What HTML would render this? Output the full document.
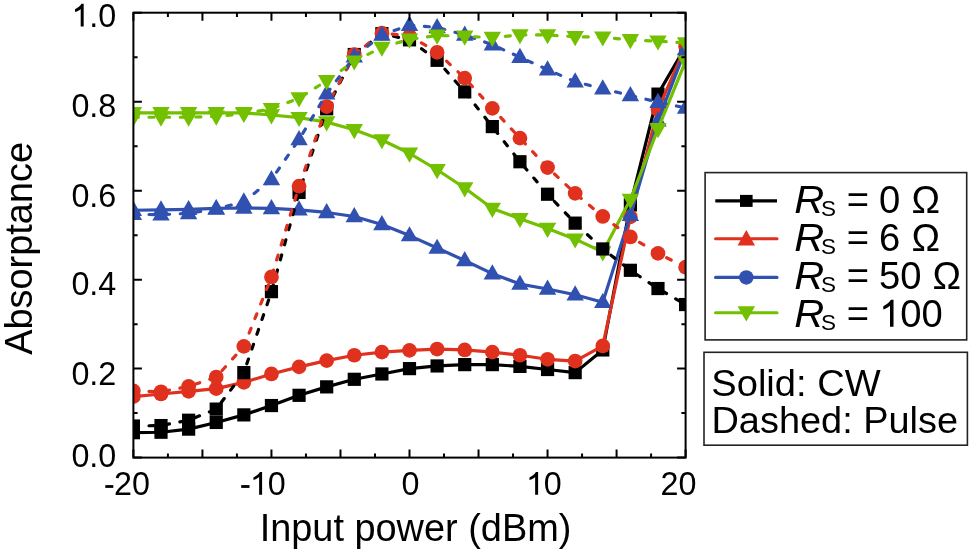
<!DOCTYPE html>
<html><head><meta charset="utf-8"><style>
html,body{margin:0;padding:0;background:#fff;width:969px;height:553px;overflow:hidden;font-family:"Liberation Sans",sans-serif}
</style></head><body>
<div style="position:relative;width:969px;height:553px">
<svg width="969" height="553" viewBox="0 0 969 553" style="position:absolute;left:0;top:0">
<defs><clipPath id="pc"><rect x="133.4" y="12.7" width="552.2" height="444.90000000000003"/></clipPath></defs>
<g clip-path="url(#pc)">
<polyline points="133.40,432.69 161.01,432.24 188.62,429.13 216.23,422.45 243.84,414.89 271.45,405.55 299.06,395.31 326.67,386.86 354.28,379.30 381.89,373.96 409.50,368.62 437.11,365.95 464.72,364.62 492.33,364.62 519.94,366.40 547.55,369.51 575.16,372.62 602.77,349.93 630.38,204.90 657.99,94.12 685.60,46.51" fill="none" stroke="#000000" stroke-width="3.2" stroke-linejoin="round"/><rect x="126.80" y="426.09" width="13.2" height="13.2" fill="#000000"/><rect x="154.41" y="425.64" width="13.2" height="13.2" fill="#000000"/><rect x="182.02" y="422.53" width="13.2" height="13.2" fill="#000000"/><rect x="209.63" y="415.85" width="13.2" height="13.2" fill="#000000"/><rect x="237.24" y="408.29" width="13.2" height="13.2" fill="#000000"/><rect x="264.85" y="398.95" width="13.2" height="13.2" fill="#000000"/><rect x="292.46" y="388.71" width="13.2" height="13.2" fill="#000000"/><rect x="320.07" y="380.26" width="13.2" height="13.2" fill="#000000"/><rect x="347.68" y="372.70" width="13.2" height="13.2" fill="#000000"/><rect x="375.29" y="367.36" width="13.2" height="13.2" fill="#000000"/><rect x="402.90" y="362.02" width="13.2" height="13.2" fill="#000000"/><rect x="430.51" y="359.35" width="13.2" height="13.2" fill="#000000"/><rect x="458.12" y="358.02" width="13.2" height="13.2" fill="#000000"/><rect x="485.73" y="358.02" width="13.2" height="13.2" fill="#000000"/><rect x="513.34" y="359.80" width="13.2" height="13.2" fill="#000000"/><rect x="540.95" y="362.91" width="13.2" height="13.2" fill="#000000"/><rect x="568.56" y="366.02" width="13.2" height="13.2" fill="#000000"/><rect x="596.17" y="343.33" width="13.2" height="13.2" fill="#000000"/><rect x="623.78" y="198.30" width="13.2" height="13.2" fill="#000000"/><rect x="651.39" y="87.52" width="13.2" height="13.2" fill="#000000"/><rect x="679.00" y="39.91" width="13.2" height="13.2" fill="#000000"/>
<polyline points="133.40,396.65 161.01,393.98 188.62,391.31 216.23,388.64 243.84,382.41 271.45,373.96 299.06,366.84 326.67,360.61 354.28,355.27 381.89,352.16 409.50,350.38 437.11,349.04 464.72,349.93 492.33,352.16 519.94,355.27 547.55,359.28 575.16,361.06 602.77,345.93 630.38,216.91 657.99,109.69 685.60,46.51" fill="none" stroke="#E0301E" stroke-width="3.2" stroke-linejoin="round"/><circle cx="133.40" cy="396.65" r="7.35" fill="#E0301E"/><circle cx="161.01" cy="393.98" r="7.35" fill="#E0301E"/><circle cx="188.62" cy="391.31" r="7.35" fill="#E0301E"/><circle cx="216.23" cy="388.64" r="7.35" fill="#E0301E"/><circle cx="243.84" cy="382.41" r="7.35" fill="#E0301E"/><circle cx="271.45" cy="373.96" r="7.35" fill="#E0301E"/><circle cx="299.06" cy="366.84" r="7.35" fill="#E0301E"/><circle cx="326.67" cy="360.61" r="7.35" fill="#E0301E"/><circle cx="354.28" cy="355.27" r="7.35" fill="#E0301E"/><circle cx="381.89" cy="352.16" r="7.35" fill="#E0301E"/><circle cx="409.50" cy="350.38" r="7.35" fill="#E0301E"/><circle cx="437.11" cy="349.04" r="7.35" fill="#E0301E"/><circle cx="464.72" cy="349.93" r="7.35" fill="#E0301E"/><circle cx="492.33" cy="352.16" r="7.35" fill="#E0301E"/><circle cx="519.94" cy="355.27" r="7.35" fill="#E0301E"/><circle cx="547.55" cy="359.28" r="7.35" fill="#E0301E"/><circle cx="575.16" cy="361.06" r="7.35" fill="#E0301E"/><circle cx="602.77" cy="345.93" r="7.35" fill="#E0301E"/><circle cx="630.38" cy="216.91" r="7.35" fill="#E0301E"/><circle cx="657.99" cy="109.69" r="7.35" fill="#E0301E"/><circle cx="685.60" cy="46.51" r="7.35" fill="#E0301E"/>
<polyline points="133.40,210.24 161.01,209.79 188.62,209.35 216.23,208.46 243.84,208.01 271.45,208.46 299.06,209.79 326.67,212.46 354.28,216.46 381.89,224.47 409.50,235.59 437.11,248.05 464.72,260.51 492.33,273.63 519.94,284.09 547.55,288.98 575.16,294.77 602.77,302.33 630.38,215.13 657.99,120.81 685.60,49.18" fill="none" stroke="#3151B0" stroke-width="3.2" stroke-linejoin="round"/><path d="M133.40 200.81L142.10 216.01L124.70 216.01Z" fill="#3151B0"/><path d="M161.01 200.37L169.71 215.57L152.31 215.57Z" fill="#3151B0"/><path d="M188.62 199.92L197.32 215.12L179.92 215.12Z" fill="#3151B0"/><path d="M216.23 199.03L224.93 214.23L207.53 214.23Z" fill="#3151B0"/><path d="M243.84 198.59L252.54 213.79L235.14 213.79Z" fill="#3151B0"/><path d="M271.45 199.03L280.15 214.23L262.75 214.23Z" fill="#3151B0"/><path d="M299.06 200.37L307.76 215.57L290.36 215.57Z" fill="#3151B0"/><path d="M326.67 203.04L335.37 218.24L317.97 218.24Z" fill="#3151B0"/><path d="M354.28 207.04L362.98 222.24L345.58 222.24Z" fill="#3151B0"/><path d="M381.89 215.05L390.59 230.25L373.19 230.25Z" fill="#3151B0"/><path d="M409.50 226.17L418.20 241.37L400.80 241.37Z" fill="#3151B0"/><path d="M437.11 238.63L445.81 253.83L428.41 253.83Z" fill="#3151B0"/><path d="M464.72 251.09L473.42 266.29L456.02 266.29Z" fill="#3151B0"/><path d="M492.33 264.21L501.03 279.41L483.63 279.41Z" fill="#3151B0"/><path d="M519.94 274.67L528.64 289.87L511.24 289.87Z" fill="#3151B0"/><path d="M547.55 279.56L556.25 294.76L538.85 294.76Z" fill="#3151B0"/><path d="M575.16 285.34L583.86 300.54L566.46 300.54Z" fill="#3151B0"/><path d="M602.77 292.91L611.47 308.11L594.07 308.11Z" fill="#3151B0"/><path d="M630.38 205.71L639.08 220.91L621.68 220.91Z" fill="#3151B0"/><path d="M657.99 111.39L666.69 126.59L649.29 126.59Z" fill="#3151B0"/><path d="M685.60 39.76L694.30 54.96L676.90 54.96Z" fill="#3151B0"/>
<polyline points="133.40,112.80 161.01,112.80 188.62,112.80 216.23,112.80 243.84,112.80 271.45,115.03 299.06,117.70 326.67,122.15 354.28,129.71 381.89,139.94 409.50,153.29 437.11,169.75 464.72,187.99 492.33,208.46 519.94,218.69 547.55,228.48 575.16,239.15 602.77,252.06 630.38,199.56 657.99,128.82 685.60,61.19" fill="none" stroke="#72C000" stroke-width="3.2" stroke-linejoin="round"/><path d="M133.40 122.23L142.10 107.03L124.70 107.03Z" fill="#72C000"/><path d="M161.01 122.23L169.71 107.03L152.31 107.03Z" fill="#72C000"/><path d="M188.62 122.23L197.32 107.03L179.92 107.03Z" fill="#72C000"/><path d="M216.23 122.23L224.93 107.03L207.53 107.03Z" fill="#72C000"/><path d="M243.84 122.23L252.54 107.03L235.14 107.03Z" fill="#72C000"/><path d="M271.45 124.45L280.15 109.25L262.75 109.25Z" fill="#72C000"/><path d="M299.06 127.12L307.76 111.92L290.36 111.92Z" fill="#72C000"/><path d="M326.67 131.57L335.37 116.37L317.97 116.37Z" fill="#72C000"/><path d="M354.28 139.13L362.98 123.93L345.58 123.93Z" fill="#72C000"/><path d="M381.89 149.37L390.59 134.17L373.19 134.17Z" fill="#72C000"/><path d="M409.50 162.71L418.20 147.51L400.80 147.51Z" fill="#72C000"/><path d="M437.11 179.17L445.81 163.97L428.41 163.97Z" fill="#72C000"/><path d="M464.72 197.41L473.42 182.21L456.02 182.21Z" fill="#72C000"/><path d="M492.33 217.88L501.03 202.68L483.63 202.68Z" fill="#72C000"/><path d="M519.94 228.11L528.64 212.91L511.24 212.91Z" fill="#72C000"/><path d="M547.55 237.90L556.25 222.70L538.85 222.70Z" fill="#72C000"/><path d="M575.16 248.58L583.86 233.38L566.46 233.38Z" fill="#72C000"/><path d="M602.77 261.48L611.47 246.28L594.07 246.28Z" fill="#72C000"/><path d="M630.38 208.98L639.08 193.78L621.68 193.78Z" fill="#72C000"/><path d="M657.99 138.24L666.69 123.04L649.29 123.04Z" fill="#72C000"/><path d="M685.60 70.62L694.30 55.42L676.90 55.42Z" fill="#72C000"/>
<polyline points="133.40,426.01 161.01,425.57 188.62,420.23 216.23,409.11 243.84,372.62 271.45,291.65 299.06,192.44 326.67,108.80 354.28,54.52 381.89,33.61 409.50,39.84 437.11,60.30 464.72,91.89 492.33,126.59 519.94,161.74 547.55,194.22 575.16,223.14 602.77,248.94 630.38,270.30 657.99,288.54 685.60,304.55" fill="none" stroke="#000000" stroke-width="3.2" stroke-dasharray="5.0 10.62" stroke-linecap="round"/><rect x="126.80" y="419.41" width="13.2" height="13.2" fill="#000000"/><rect x="154.41" y="418.97" width="13.2" height="13.2" fill="#000000"/><rect x="182.02" y="413.63" width="13.2" height="13.2" fill="#000000"/><rect x="209.63" y="402.51" width="13.2" height="13.2" fill="#000000"/><rect x="237.24" y="366.02" width="13.2" height="13.2" fill="#000000"/><rect x="264.85" y="285.05" width="13.2" height="13.2" fill="#000000"/><rect x="292.46" y="185.84" width="13.2" height="13.2" fill="#000000"/><rect x="320.07" y="102.20" width="13.2" height="13.2" fill="#000000"/><rect x="347.68" y="47.92" width="13.2" height="13.2" fill="#000000"/><rect x="375.29" y="27.01" width="13.2" height="13.2" fill="#000000"/><rect x="402.90" y="33.24" width="13.2" height="13.2" fill="#000000"/><rect x="430.51" y="53.70" width="13.2" height="13.2" fill="#000000"/><rect x="458.12" y="85.29" width="13.2" height="13.2" fill="#000000"/><rect x="485.73" y="119.99" width="13.2" height="13.2" fill="#000000"/><rect x="513.34" y="155.14" width="13.2" height="13.2" fill="#000000"/><rect x="540.95" y="187.62" width="13.2" height="13.2" fill="#000000"/><rect x="568.56" y="216.54" width="13.2" height="13.2" fill="#000000"/><rect x="596.17" y="242.34" width="13.2" height="13.2" fill="#000000"/><rect x="623.78" y="263.70" width="13.2" height="13.2" fill="#000000"/><rect x="651.39" y="281.94" width="13.2" height="13.2" fill="#000000"/><rect x="679.00" y="297.95" width="13.2" height="13.2" fill="#000000"/>
<polyline points="133.40,390.87 161.01,391.75 188.62,386.42 216.23,377.07 243.84,346.38 271.45,276.97 299.06,186.21 326.67,106.57 354.28,54.52 381.89,33.17 409.50,35.83 437.11,52.30 464.72,78.10 492.33,108.35 519.94,138.16 547.55,167.53 575.16,193.33 602.77,216.46 630.38,236.93 657.99,253.39 685.60,267.18" fill="none" stroke="#E0301E" stroke-width="3.2" stroke-dasharray="5.0 10.62" stroke-linecap="round"/><circle cx="133.40" cy="390.87" r="7.35" fill="#E0301E"/><circle cx="161.01" cy="391.75" r="7.35" fill="#E0301E"/><circle cx="188.62" cy="386.42" r="7.35" fill="#E0301E"/><circle cx="216.23" cy="377.07" r="7.35" fill="#E0301E"/><circle cx="243.84" cy="346.38" r="7.35" fill="#E0301E"/><circle cx="271.45" cy="276.97" r="7.35" fill="#E0301E"/><circle cx="299.06" cy="186.21" r="7.35" fill="#E0301E"/><circle cx="326.67" cy="106.57" r="7.35" fill="#E0301E"/><circle cx="354.28" cy="54.52" r="7.35" fill="#E0301E"/><circle cx="381.89" cy="33.17" r="7.35" fill="#E0301E"/><circle cx="409.50" cy="35.83" r="7.35" fill="#E0301E"/><circle cx="437.11" cy="52.30" r="7.35" fill="#E0301E"/><circle cx="464.72" cy="78.10" r="7.35" fill="#E0301E"/><circle cx="492.33" cy="108.35" r="7.35" fill="#E0301E"/><circle cx="519.94" cy="138.16" r="7.35" fill="#E0301E"/><circle cx="547.55" cy="167.53" r="7.35" fill="#E0301E"/><circle cx="575.16" cy="193.33" r="7.35" fill="#E0301E"/><circle cx="602.77" cy="216.46" r="7.35" fill="#E0301E"/><circle cx="630.38" cy="236.93" r="7.35" fill="#E0301E"/><circle cx="657.99" cy="253.39" r="7.35" fill="#E0301E"/><circle cx="685.60" cy="267.18" r="7.35" fill="#E0301E"/>
<polyline points="133.40,214.24 161.01,214.68 188.62,213.35 216.23,208.90 243.84,201.78 271.45,179.54 299.06,139.50 326.67,93.67 354.28,56.75 381.89,34.94 409.50,25.16 437.11,27.38 464.72,34.94 492.33,44.73 519.94,57.19 547.55,69.65 575.16,81.66 602.77,88.78 630.38,95.45 657.99,102.12 685.60,107.91" fill="none" stroke="#3151B0" stroke-width="3.2" stroke-dasharray="5.0 10.62" stroke-linecap="round"/><path d="M133.40 204.82L142.10 220.02L124.70 220.02Z" fill="#3151B0"/><path d="M161.01 205.26L169.71 220.46L152.31 220.46Z" fill="#3151B0"/><path d="M188.62 203.93L197.32 219.13L179.92 219.13Z" fill="#3151B0"/><path d="M216.23 199.48L224.93 214.68L207.53 214.68Z" fill="#3151B0"/><path d="M243.84 192.36L252.54 207.56L235.14 207.56Z" fill="#3151B0"/><path d="M271.45 170.11L280.15 185.31L262.75 185.31Z" fill="#3151B0"/><path d="M299.06 130.07L307.76 145.27L290.36 145.27Z" fill="#3151B0"/><path d="M326.67 84.25L335.37 99.45L317.97 99.45Z" fill="#3151B0"/><path d="M354.28 47.32L362.98 62.52L345.58 62.52Z" fill="#3151B0"/><path d="M381.89 25.52L390.59 40.72L373.19 40.72Z" fill="#3151B0"/><path d="M409.50 15.73L418.20 30.93L400.80 30.93Z" fill="#3151B0"/><path d="M437.11 17.96L445.81 33.16L428.41 33.16Z" fill="#3151B0"/><path d="M464.72 25.52L473.42 40.72L456.02 40.72Z" fill="#3151B0"/><path d="M492.33 35.31L501.03 50.51L483.63 50.51Z" fill="#3151B0"/><path d="M519.94 47.77L528.64 62.97L511.24 62.97Z" fill="#3151B0"/><path d="M547.55 60.22L556.25 75.42L538.85 75.42Z" fill="#3151B0"/><path d="M575.16 72.24L583.86 87.44L566.46 87.44Z" fill="#3151B0"/><path d="M602.77 79.35L611.47 94.55L594.07 94.55Z" fill="#3151B0"/><path d="M630.38 86.03L639.08 101.23L621.68 101.23Z" fill="#3151B0"/><path d="M657.99 92.70L666.69 107.90L649.29 107.90Z" fill="#3151B0"/><path d="M685.60 98.48L694.30 113.68L676.90 113.68Z" fill="#3151B0"/>
<polyline points="133.40,117.25 161.01,117.25 188.62,117.25 216.23,116.36 243.84,113.69 271.45,108.80 299.06,98.12 326.67,80.77 354.28,61.19 381.89,47.40 409.50,39.39 437.11,35.39 464.72,36.28 492.33,37.61 519.94,34.94 547.55,34.94 575.16,36.72 602.77,37.17 630.38,39.84 657.99,41.17 685.60,42.95" fill="none" stroke="#72C000" stroke-width="3.2" stroke-dasharray="5.0 10.62" stroke-linecap="round"/><path d="M133.40 126.68L142.10 111.48L124.70 111.48Z" fill="#72C000"/><path d="M161.01 126.68L169.71 111.48L152.31 111.48Z" fill="#72C000"/><path d="M188.62 126.68L197.32 111.48L179.92 111.48Z" fill="#72C000"/><path d="M216.23 125.79L224.93 110.59L207.53 110.59Z" fill="#72C000"/><path d="M243.84 123.12L252.54 107.92L235.14 107.92Z" fill="#72C000"/><path d="M271.45 118.22L280.15 103.02L262.75 103.02Z" fill="#72C000"/><path d="M299.06 107.54L307.76 92.34L290.36 92.34Z" fill="#72C000"/><path d="M326.67 90.19L335.37 74.99L317.97 74.99Z" fill="#72C000"/><path d="M354.28 70.62L362.98 55.42L345.58 55.42Z" fill="#72C000"/><path d="M381.89 56.83L390.59 41.63L373.19 41.63Z" fill="#72C000"/><path d="M409.50 48.82L418.20 33.62L400.80 33.62Z" fill="#72C000"/><path d="M437.11 44.81L445.81 29.61L428.41 29.61Z" fill="#72C000"/><path d="M464.72 45.70L473.42 30.50L456.02 30.50Z" fill="#72C000"/><path d="M492.33 47.04L501.03 31.84L483.63 31.84Z" fill="#72C000"/><path d="M519.94 44.37L528.64 29.17L511.24 29.17Z" fill="#72C000"/><path d="M547.55 44.37L556.25 29.17L538.85 29.17Z" fill="#72C000"/><path d="M575.16 46.15L583.86 30.95L566.46 30.95Z" fill="#72C000"/><path d="M602.77 46.59L611.47 31.39L594.07 31.39Z" fill="#72C000"/><path d="M630.38 49.26L639.08 34.06L621.68 34.06Z" fill="#72C000"/><path d="M657.99 50.60L666.69 35.40L649.29 35.40Z" fill="#72C000"/><path d="M685.60 52.38L694.30 37.18L676.90 37.18Z" fill="#72C000"/>
</g>
<path d="M133.40 457.60V449.60M133.40 12.70V20.70M167.91 457.60V453.40M167.91 12.70V16.90M202.43 457.60V449.60M202.43 12.70V20.70M236.94 457.60V453.40M236.94 12.70V16.90M271.45 457.60V449.60M271.45 12.70V20.70M305.96 457.60V453.40M305.96 12.70V16.90M340.48 457.60V449.60M340.48 12.70V20.70M374.99 457.60V453.40M374.99 12.70V16.90M409.50 457.60V449.60M409.50 12.70V20.70M444.01 457.60V453.40M444.01 12.70V16.90M478.53 457.60V449.60M478.53 12.70V20.70M513.04 457.60V453.40M513.04 12.70V16.90M547.55 457.60V449.60M547.55 12.70V20.70M582.06 457.60V453.40M582.06 12.70V16.90M616.58 457.60V449.60M616.58 12.70V20.70M651.09 457.60V453.40M651.09 12.70V16.90M685.60 457.60V449.60M685.60 12.70V20.70M133.40 457.60H141.90M685.60 457.60H677.10M133.40 413.11H137.60M685.60 413.11H681.40M133.40 368.62H141.90M685.60 368.62H677.10M133.40 324.13H137.60M685.60 324.13H681.40M133.40 279.64H141.90M685.60 279.64H677.10M133.40 235.15H137.60M685.60 235.15H681.40M133.40 190.66H141.90M685.60 190.66H677.10M133.40 146.17H137.60M685.60 146.17H681.40M133.40 101.68H141.90M685.60 101.68H677.10M133.40 57.19H137.60M685.60 57.19H681.40M133.40 12.70H141.90M685.60 12.70H677.10" stroke="#000" stroke-width="2" fill="none"/>
<rect x="133.4" y="12.7" width="552.2" height="444.90000000000003" fill="none" stroke="#000" stroke-width="2"/>
</svg>
<svg width="969" height="553" viewBox="0 0 969 553" style="position:absolute;left:0;top:0;will-change:transform" font-family="Liberation Sans, sans-serif" fill="#000">
<path transform="translate(71.40 26.60) scale(32.3 -32.3)" d="M0.380 0L0.380 0.705L0.312 0.705C0.280 0.640 0.200 0.578 0.112 0.536L0.112 0.452C0.190 0.478 0.250 0.510 0.288 0.548L0.288 0Z"/><text x="89.36" y="26.6" font-size="32.3">.</text><text x="98.34" y="26.6" font-size="32.3">0</text><text x="71.40" y="116.6" font-size="32.3">0</text><text x="89.36" y="116.6" font-size="32.3">.</text><text x="98.34" y="116.6" font-size="32.3">8</text><text x="71.40" y="206.6" font-size="32.3">0</text><text x="89.36" y="206.6" font-size="32.3">.</text><text x="98.34" y="206.6" font-size="32.3">6</text><text x="71.40" y="294.6" font-size="32.3">0</text><text x="89.36" y="294.6" font-size="32.3">.</text><text x="98.34" y="294.6" font-size="32.3">4</text><text x="71.40" y="384.6" font-size="32.3">0</text><text x="89.36" y="384.6" font-size="32.3">.</text><text x="98.34" y="384.6" font-size="32.3">2</text><text x="71.40" y="466.6" font-size="32.3">0</text><text x="89.36" y="466.6" font-size="32.3">.</text><text x="98.34" y="466.6" font-size="32.3">0</text><rect x="105.3" y="485.10" width="8.0" height="2.8"/><text x="114.12" y="494.7" font-size="32.3">2</text><text x="132.08" y="494.7" font-size="32.3">0</text><rect x="241.2" y="485.10" width="8.3" height="2.8"/><path transform="translate(249.82 494.70) scale(32.3 -32.3)" d="M0.380 0L0.380 0.705L0.312 0.705C0.280 0.640 0.200 0.578 0.112 0.536L0.112 0.452C0.190 0.478 0.250 0.510 0.288 0.548L0.288 0Z"/><text x="267.78" y="494.7" font-size="32.3">0</text><text x="401.62" y="494.7" font-size="32.3">0</text><path transform="translate(525.84 494.70) scale(32.3 -32.3)" d="M0.380 0L0.380 0.705L0.312 0.705C0.280 0.640 0.200 0.578 0.112 0.536L0.112 0.452C0.190 0.478 0.250 0.510 0.288 0.548L0.288 0Z"/><text x="543.80" y="494.7" font-size="32.3">0</text><text x="660.54" y="494.7" font-size="32.3">2</text><text x="678.50" y="494.7" font-size="32.3">0</text><text x="415.5" y="540.9" font-size="37.9" text-anchor="middle">Input power (dBm)</text><text x="0" y="0" font-size="37.9" text-anchor="middle" transform="translate(31.8 248.4) rotate(-90)">Absorptance</text>
<rect x="705.1" y="172.6" width="261.6" height="167.3" fill="#fff" stroke="#222" stroke-width="1.6"/><rect x="704.0" y="352.3" width="263.4" height="92.9" fill="#fff" stroke="#222" stroke-width="1.6"/><line x1="715.3" y1="200.9" x2="777.0" y2="200.9" stroke="#000000" stroke-width="3.1" stroke-linecap="butt"/><rect x="740.0" y="194.9" width="12.6" height="12" fill="#000000"/><text x="794.2" y="212.8" font-size="38.2" font-style="italic" textLength="30.0" lengthAdjust="spacingAndGlyphs">R</text><text x="821.0" y="216.4" font-size="22.5">S</text><text y="212.8" font-size="38.2"><tspan x="846.8">=</tspan><tspan x="879">0</tspan><tspan x="911.5">Ω</tspan></text><line x1="715.6" y1="238.8" x2="777.0" y2="238.8" stroke="#E0301E" stroke-width="3.1" stroke-linecap="round"/><path d="M746.3 230.08L755.05 245.38L737.55 245.38Z" fill="#E0301E"/><text x="794.2" y="250.8" font-size="38.2" font-style="italic" textLength="30.0" lengthAdjust="spacingAndGlyphs">R</text><text x="821.0" y="254.4" font-size="22.5">S</text><text y="250.8" font-size="38.2"><tspan x="846.8">=</tspan><tspan x="879">6</tspan><tspan x="911.5">Ω</tspan></text><line x1="715.6" y1="277.4" x2="777.0" y2="277.4" stroke="#3151B0" stroke-width="3.1" stroke-linecap="round"/><circle cx="746.3" cy="277.4" r="7.25" fill="#3151B0"/><text x="794.2" y="288.8" font-size="38.2" font-style="italic" textLength="30.0" lengthAdjust="spacingAndGlyphs">R</text><text x="821.0" y="292.40000000000003" font-size="22.5">S</text><text y="288.8" font-size="38.2"><tspan x="846.8">=</tspan><tspan x="879">50</tspan><tspan x="932.5">Ω</tspan></text><line x1="715.6" y1="312.8" x2="777.0" y2="312.8" stroke="#72C000" stroke-width="3.1" stroke-linecap="round"/><path d="M746.3 321.52L755.05 306.22L737.55 306.22Z" fill="#72C000"/><text x="794.2" y="326.8" font-size="38.2" font-style="italic" textLength="30.0" lengthAdjust="spacingAndGlyphs">R</text><text x="821.0" y="330.40000000000003" font-size="22.5">S</text><path transform="translate(879.00 326.80) scale(38.2 -38.2)" d="M0.380 0L0.380 0.705L0.312 0.705C0.280 0.640 0.200 0.578 0.112 0.536L0.112 0.452C0.190 0.478 0.250 0.510 0.288 0.548L0.288 0Z"/><text y="326.8" font-size="38.2"><tspan x="846.8">=</tspan><tspan x="900.24">00</tspan></text><text x="711.3" y="395.6" font-size="36.8" textLength="169.3" lengthAdjust="spacingAndGlyphs">Solid: CW</text><text x="711.5" y="433.4" font-size="36.8" textLength="246.5" lengthAdjust="spacingAndGlyphs">Dashed: Pulse</text>
</svg>
</div>
</body></html>
